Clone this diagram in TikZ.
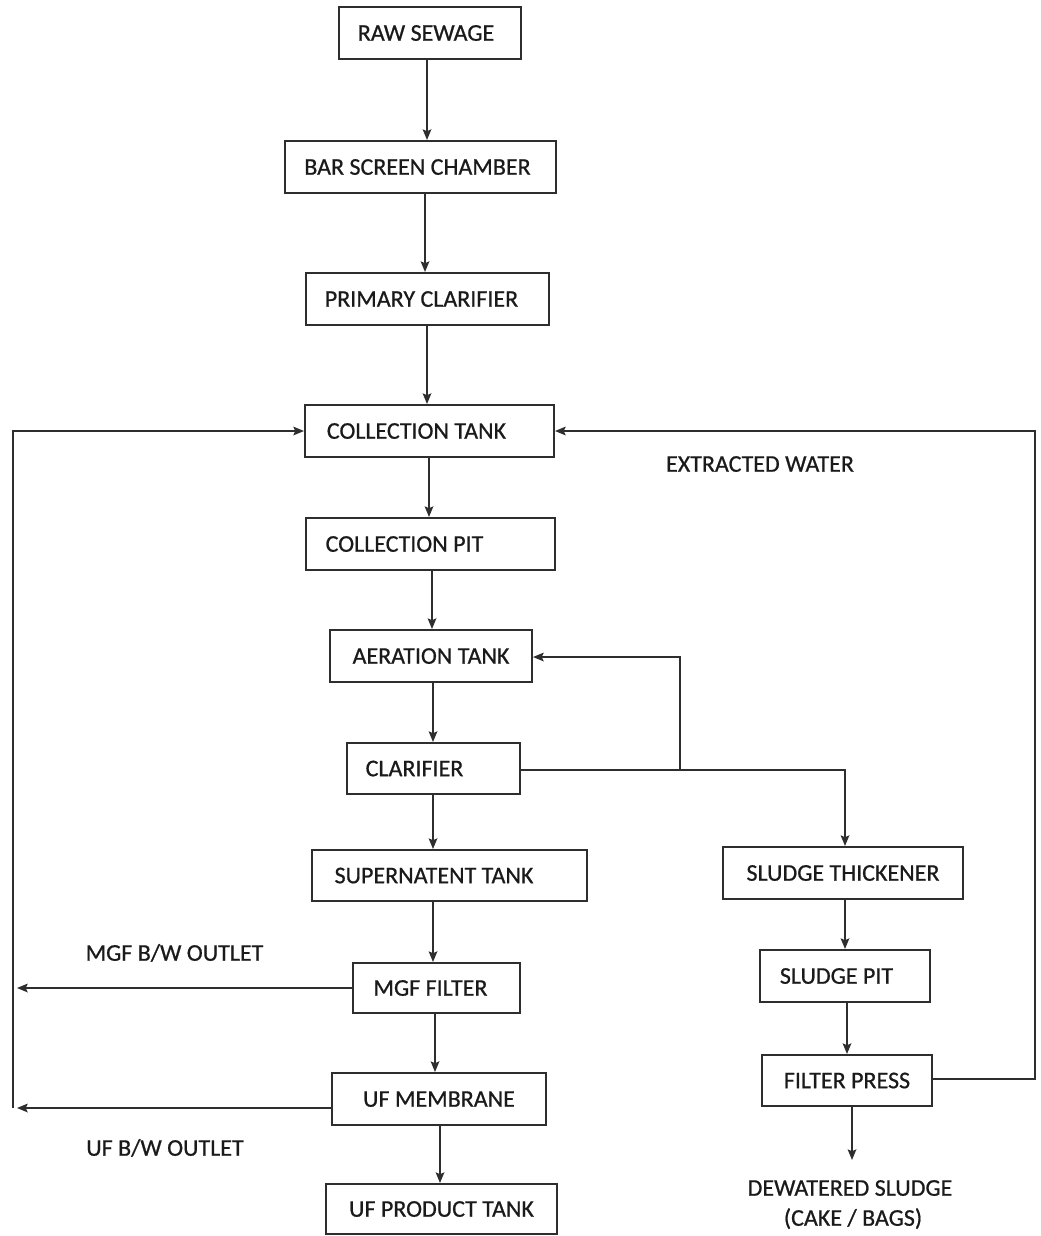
\documentclass[tikz,border=0pt]{standalone}
\usepackage{fontspec}
\setmainfont{Carlito}[FakeBold=0.7]
\usetikzlibrary{arrows.meta}
\definecolor{ln}{HTML}{2E2E2E}
\definecolor{tx}{HTML}{1A1A1A}
\begin{document}
\begin{tikzpicture}[x=0.75pt,y=-0.75pt,
  box/.style={draw=ln, line width=1.5pt, inner sep=0pt, text=tx,
    font=\fontsize{18pt}{21pt}\selectfont, text height=11.6pt, text depth=0pt,
    minimum height=39pt},
  lbl/.style={inner sep=0pt, text=tx, font=\fontsize{18pt}{21pt}\selectfont,
    text height=11.6pt, text depth=0pt},
  tsh/.style={execute at begin node={\kern#1pt}},
  wire/.style={draw=ln, line width=1.3pt},
  arr/.style={wire, -{Stealth[length=8pt,width=6.5pt,inset=1.5pt]}}]
\useasboundingbox (0,0) rectangle (1041,1236);
% boxes
\node[box, minimum width=136.5pt, tsh=-6] (raw) at (430,33) {RAW SEWAGE};
\node[box, minimum width=203.25pt, tsh=-4.5] (bar) at (420.5,167) {BAR SCREEN CHAMBER};
\node[box, minimum width=182.25pt, tsh=-9] (prim) at (427.5,299) {PRIMARY CLARIFIER};
\node[box, minimum width=186.75pt, tsh=-19.5] (ctank) at (429.5,431) {COLLECTION TANK};
\node[box, minimum width=186.75pt, tsh=-39] (cpit) at (430.5,544) {COLLECTION PIT};
\node[box, minimum width=151.5pt] (aer) at (431,656) {AERATION TANK};
\node[box, minimum width=129.75pt, minimum height=38.25pt, tsh=-28.5] (clar) at (433.5,768.5) {CLARIFIER};
\node[box, minimum width=206.25pt, minimum height=38.25pt, tsh=-23.25] (sup) at (449.5,875.5) {SUPERNATENT TANK};
\node[box, minimum width=125.25pt, minimum height=37.5pt, tsh=-9] (mgf) at (436.5,988) {MGF FILTER};
\node[box, minimum width=160.5pt] (uf) at (439,1099) {UF MEMBRANE};
\node[box, minimum width=173.25pt, minimum height=37.5pt] (ufp) at (441.5,1209) {UF PRODUCT TANK};
\node[box, minimum width=180pt] (thick) at (843,873) {SLUDGE THICKENER};
\node[box, minimum width=127.5pt, tsh=-12.75] (spit) at (845,976) {SLUDGE PIT};
\node[box, minimum width=127.5pt, minimum height=38.25pt] (fp) at (847,1080.5) {FILTER PRESS};
% labels
\node[lbl] (lmgf) at (174.5,953) {MGF B/W OUTLET};
\node[lbl] (luf) at (165,1148) {UF B/W OUTLET};
\node[lbl] (lext) at (760,464) {EXTRACTED WATER};
\node[lbl] (lds1) at (850,1188) {DEWATERED SLUDGE};
\node[lbl] (lds2) at (853,1218) {(CAKE / BAGS)};
% column x positions
\coordinate (x1) at (427,0);
\coordinate (x2) at (425,0);
\coordinate (x3) at (427,0);
\coordinate (x4) at (429,0);
\coordinate (x5) at (432,0);
\coordinate (x6) at (433,0);
\coordinate (x7) at (433,0);
\coordinate (x8) at (433,0);
\coordinate (x9) at (435,0);
\coordinate (x10) at (440,0);
\draw[arr] (raw.south -| x1) -- (bar.north -| x1);
\draw[arr] (bar.south -| x2) -- (prim.north -| x2);
\draw[arr] (prim.south -| x3) -- (ctank.north -| x3);
\draw[arr] (ctank.south -| x4) -- (cpit.north -| x4);
\draw[arr] (cpit.south -| x5) -- (aer.north -| x5);
\draw[arr] (aer.south -| x6) -- (clar.north -| x6);
\draw[arr] (clar.south -| x7) -- (sup.north -| x7);
\draw[arr] (sup.south -| x8) -- (mgf.north -| x8);
\draw[arr] (mgf.south -| x9) -- (uf.north -| x9);
\draw[arr] (uf.south -| x10) -- (ufp.north -| x10);
% sludge column
\coordinate (s1) at (845,0);
\coordinate (s2) at (847,0);
\draw[arr] (thick.south -| s1) -- (spit.north -| s1);
\draw[arr] (spit.south -| s2) -- (fp.north -| s2);
% branch points
\coordinate (J) at (680,770);
\coordinate (Jt) at (680,657);
\coordinate (Tk) at (845,770);
\coordinate (R1) at (1035,1079);
\coordinate (R2) at (1035,431);
\coordinate (L1) at (13,431);
\coordinate (L2) at (13,1108);
\coordinate (Lm) at (17,988);
\coordinate (Lu) at (17,1108);
\coordinate (Dw) at (852,1160);
\draw[wire] (clar.east |- J) -- (J);
\draw[arr] (J) -- (Jt) -- (aer.east |- Jt);
\draw[arr] (J) -- (Tk) -- (thick.north -| Tk);
\draw[arr] (fp.east |- R1) -- (R1) -- (R2) -- (ctank.east |- R2);
\draw[arr] (mgf.west) -- (Lm);
\draw[arr] (uf.west |- Lu) -- (Lu);
\draw[arr] (L2) -- (L1) -- (ctank.west |- L1);
\draw[arr] (fp.south -| Dw) -- (Dw);
\end{tikzpicture}
\end{document}
